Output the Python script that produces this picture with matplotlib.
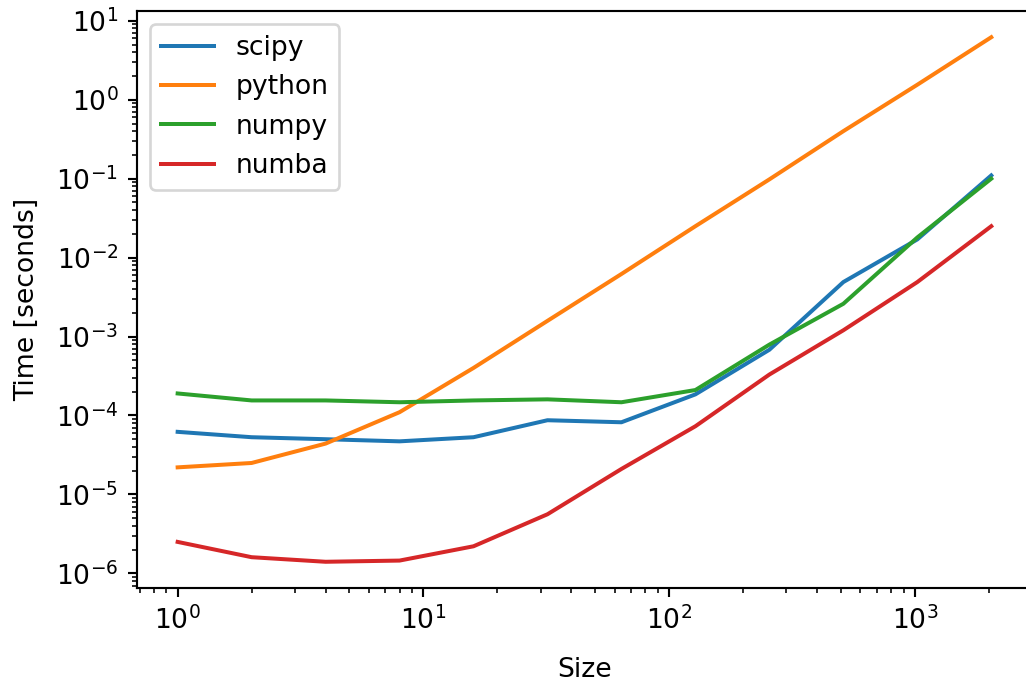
import numpy as np
import matplotlib
matplotlib.use("Agg")
import matplotlib.pyplot as plt

# ── Data ──────────────────────────────────────────────────────────────────────
sizes = [1, 2, 4, 8, 16, 32, 64, 128, 256, 512, 1024, 2048]

t_scipy  = [6.2e-5, 5.3e-5, 5.0e-5, 4.7e-5, 5.3e-5, 8.7e-5, 8.2e-5,
            1.85e-4, 6.8e-4, 4.9e-3, 1.7e-2, 0.11]
t_python = [2.2e-5, 2.5e-5, 4.4e-5, 1.1e-4, 4.0e-4, 1.58e-3, 6.2e-3,
            2.5e-2, 9.8e-2, 0.40, 1.55, 6.2]
t_numpy  = [1.9e-4, 1.55e-4, 1.55e-4, 1.47e-4, 1.55e-4, 1.6e-4, 1.47e-4,
            2.1e-4, 7.9e-4, 2.6e-3, 1.8e-2, 0.10]
t_numba  = [2.5e-6, 1.6e-6, 1.4e-6, 1.45e-6, 2.2e-6, 5.6e-6, 2.1e-5,
            7.3e-5, 3.3e-4, 1.2e-3, 4.9e-3, 2.5e-2]

# ── Figure ────────────────────────────────────────────────────────────────────
DPI = 192
fig = plt.figure(figsize=(1026 / DPI, 687 / DPI), dpi=DPI)
# right edge runs slightly past the canvas, as in the cropped original
ax = fig.add_axes([0.1335, 0.1441, 0.8723, 0.8399])

ax.loglog(sizes, t_scipy, label="scipy")
ax.loglog(sizes, t_python, label="python")
ax.loglog(sizes, t_numpy, label="numpy")
ax.loglog(sizes, t_numba, label="numba")

ax.set_xlabel("Size", labelpad=8)
ax.set_ylabel("Time [seconds]", labelpad=6)
ax.legend(loc="upper left")

fig.savefig("out.png", dpi=DPI)
